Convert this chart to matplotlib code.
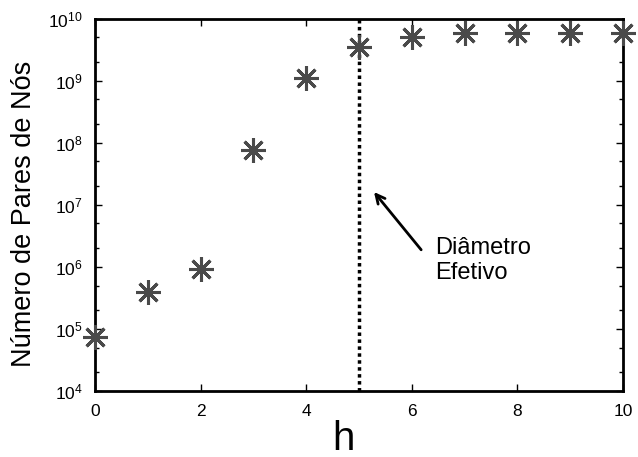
import matplotlib
matplotlib.use('Agg')
import matplotlib.pyplot as plt
from matplotlib.ticker import LogLocator

plt.rcParams['font.family'] = ['Liberation Sans', 'DejaVu Sans']
plt.rcParams['mathtext.fontset'] = 'custom'
plt.rcParams['mathtext.rm'] = 'Liberation Sans'
plt.rcParams['mathtext.it'] = 'Liberation Sans'

# ── Data ────────────────────────────────────────────────────────────────────
h_vals = [0, 1, 2, 3, 4, 5, 6, 7, 8, 9, 10]
pairs = [7.5e4, 3.9e5, 9.2e5, 7.6e7, 1.11e9, 3.5e9, 5.1e9, 5.8e9, 5.8e9, 5.9e9, 5.8e9]
eff_diam = 5
x_ticks = [0, 2, 4, 6, 8, 10]

MARK = '#4a4a4a'
BLACK = '#000000'

fig = plt.figure(figsize=(6.38, 4.57), dpi=100)
ax = fig.add_axes([0.149, 0.1444, 0.8275, 0.8151])

ax.plot(h_vals, pairs, linestyle='none', marker=(8, 2, 0), markersize=18,
        markeredgewidth=2.2, color=MARK, clip_on=False, zorder=3)

ax.axvline(eff_diam, color=BLACK, linestyle=(0, (1, 1)), linewidth=2.5, zorder=2)

# arrow + annotation for the effective diameter
ax.annotate('', xy=(5.25, 10**7.24), xytext=(6.21, 10**6.24),
            arrowprops=dict(arrowstyle='->', color=BLACK, lw=2, mutation_scale=16))
ax.text(6.45, 10**6.1, 'Diâmetro\nEfetivo', fontsize=17, ha='left', va='center',
        linespacing=1.2)

ax.set_yscale('log')
ax.set_xlim(0, 10)
ax.set_ylim(1e4, 1e10)
ax.set_xticks(x_ticks)
ax.yaxis.set_major_locator(LogLocator(base=10, numticks=10))
ax.yaxis.set_minor_locator(LogLocator(base=10, subs=(2, 5), numticks=10))
ax.yaxis.set_minor_formatter(plt.NullFormatter())

for s in ax.spines.values():
    s.set_linewidth(2)
ax.tick_params(axis='both', which='major', direction='in', length=5, width=1,
               labelsize=12.5, top=True, right=True)
ax.tick_params(axis='y', which='minor', direction='in', length=3, width=1, right=True)
ax.tick_params(axis='x', which='major', pad=9)
ax.tick_params(axis='y', which='major', pad=9)

ax.set_xlabel('h', fontsize=29)
ax.xaxis.set_label_coords(0.47, -0.078)
ax.set_ylabel('Número de Pares de Nós', fontsize=19.5)
ax.yaxis.set_label_coords(-0.11, 0.475)

fig.savefig('out.png', dpi=100)
